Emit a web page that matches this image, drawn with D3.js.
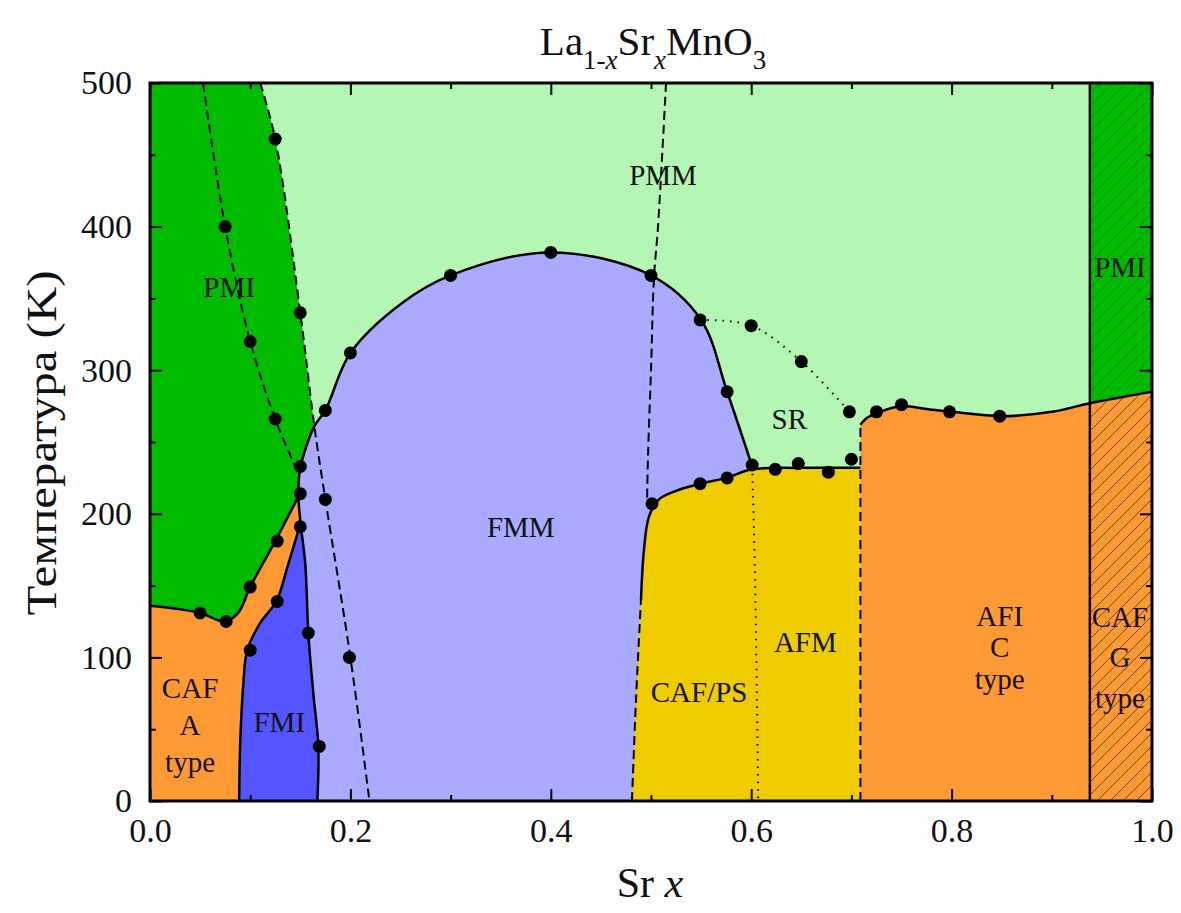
<!DOCTYPE html>
<html>
<head>
<meta charset="utf-8">
<script src="https://cdn.jsdelivr.net/npm/d3@7"></script>
<style>
body { margin: 0; background: #fff; }
text { font-family: "Liberation Serif", "Times New Roman", serif; fill: #111; }
</style>
</head>
<body>
<div id="chart"></div>
<script>
// axis ticks
var x_ticks = [0, 0.2, 0.4, 0.6, 0.8, 1.0]
var x_minor = [0.1, 0.3, 0.5, 0.7, 0.9]
var y_ticks = [0, 100, 200, 300, 400, 500]
var y_minor = [50, 150, 250, 350, 450]

// phase boundaries, [Sr x, T (K)]
var pmi_tc = [[0.11, 500], [0.125, 461], [0.15, 340], [0.164, 261], [0.175, 210], [0.2, 100], [0.219, 0]]
var pmi_inner = [[0.053, 500], [0.075, 400], [0.1, 320], [0.125, 266], [0.148, 228]]
var caf_a_top = [[0, 136], [0.025, 134], [0.05, 131], [0.075, 125], [0.088, 131], [0.1, 149], [0.125, 181], [0.148, 212]]
var fmi_left = [[0.089, 0], [0.09, 40], [0.093, 80], [0.097, 105], [0.11, 124], [0.126, 139], [0.138, 165], [0.15, 193]]
var fmm_left = [[0.167, 0], [0.168, 38], [0.163, 75], [0.158, 117], [0.155, 165], [0.15, 195], [0.148, 214], [0.15, 232],
    [0.164, 261], [0.175, 272], [0.2, 312], [0.25, 346], [0.3, 366], [0.4, 382], [0.5, 366], [0.55, 335], [0.576, 285], [0.601, 233]]
var mid_dash = [[0.515, 500], [0.507, 400], [0.503, 365], [0.5, 300], [0.497, 240], [0.496, 206]]
var caf_ps_dash = [[0.481, 0], [0.485, 70], [0.49, 140]]
var caf_ps_top = [[0.49, 140], [0.493, 175], [0.498, 198], [0.508, 210], [0.525, 216], [0.55, 221], [0.575, 225], [0.601, 231], [0.65, 232], [0.709, 232]]
var sr_line = [[0.549, 335], [0.6, 331], [0.65, 306], [0.698, 271]]
var afm_line = [[0.601, 233], [0.604, 150], [0.607, 0]]
var c_dash = [[0.709, 0], [0.709, 262]]
var c_top = [[0.709, 262], [0.716, 267], [0.725, 270], [0.75, 275], [0.775, 273], [0.8, 271], [0.85, 268], [0.9, 271], [0.938, 277], [1.0, 285]]
var x_sep = 0.938

// measured points
var dots = [[0.125, 461], [0.075, 400], [0.15, 340], [0.1, 320], [0.125, 266], [0.15, 233], [0.15, 214], [0.15, 191],
    [0.175, 272], [0.2, 312], [0.175, 210], [0.127, 181], [0.1, 149], [0.127, 139], [0.05, 131], [0.076, 125],
    [0.1, 105], [0.158, 117], [0.199, 100], [0.169, 38], [0.3, 366], [0.4, 382], [0.5, 366], [0.549, 335],
    [0.576, 285], [0.6, 331], [0.65, 306], [0.698, 271], [0.725, 271], [0.75, 276], [0.798, 271], [0.848, 268],
    [0.601, 234], [0.624, 231], [0.647, 235], [0.677, 229], [0.7, 238], [0.549, 221], [0.576, 225], [0.501, 207]]

var labels = [
    ["PMI", 0.079, 351], ["PMM", 0.512, 429], ["FMM", 0.37, 184], ["SR", 0.638, 259], ["FMI", 0.129, 48],
    ["CAF", 0.04, 72], ["A", 0.04, 46], ["type", 0.04, 20],
    ["CAF/PS", 0.548, 69], ["AFM", 0.654, 104],
    ["AFI", 0.848, 122], ["C", 0.848, 100], ["type", 0.848, 78],
    ["PMI", 0.968, 365], ["CAF", 0.968, 121], ["G", 0.968, 93], ["type", 0.968, 65]
]

var width = 1181
var height = 913

var svg = d3.select("#chart")
    .append("svg")
    .attr("width", width)
    .attr("height", height)

var x = d3.scaleLinear().domain([0, 1]).range([150, 1152])
var y = d3.scaleLinear().domain([0, 500]).range([801, 83])

var smooth = d3.curveCatmullRom.alpha(0.5)
function seg(pts, curve) {
    return d3.line().x((d) => x(d[0])).y((d) => y(d[1])).curve(curve || smooth)(pts)
}
function area(parts) {
    return parts.map((p, i) => i == 0 ? p : "L" + p.slice(1)).join("") + "Z"
}
var lin = d3.curveLinear

var defs = svg.append("defs")
defs.append("clipPath").attr("id", "plot-clip")
    .append("rect").attr("x", x(0)).attr("y", y(500)).attr("width", x(1) - x(0)).attr("height", y(0) - y(500))
defs.append("clipPath").attr("id", "col-clip")
    .append("rect").attr("x", x(x_sep)).attr("y", y(500)).attr("width", x(1) - x(x_sep)).attr("height", y(0) - y(500))

function hatch(id, color) {
    var p = defs.append("pattern").attr("id", id)
        .attr("patternUnits", "userSpaceOnUse").attr("width", 13).attr("height", 13)
    p.append("path").attr("d", "M-2,2 L2,-2 M0,13 L13,0 M11,15 L15,11")
        .attr("stroke", color).attr("stroke-width", 1)
}
hatch("hatch-green", "rgba(0,70,0,0.35)")
hatch("hatch-orange", "rgba(110,50,0,0.75)")

var fills = svg.append("g").attr("clip-path", "url(#plot-clip)")

// PMM background
fills.append("rect")
    .attr("x", x(0)).attr("y", y(500)).attr("width", x(1) - x(0)).attr("height", y(0) - y(500))
    .attr("fill", "#b4f6b4")

// PMI (left)
fills.append("path")
    .attr("d", area([seg([[0, 500], [0.11, 500]], lin), seg(pmi_tc.slice(0, 4)),
        seg([[0.164, 261], [0.17, 230], [0.16, 150], [0.1, 100], [0, 100]], lin)]))
    .attr("fill", "#00bb00")

// CAF A type
fills.append("path")
    .attr("d", area([seg(caf_a_top), seg([[0.148, 212], [0.156, 212], [0.175, 0], [0, 0]], lin)]))
    .attr("fill", "#ff9933")

// FMI
fills.append("path")
    .attr("d", area([seg(fmi_left), seg([[0.15, 193], [0.17, 193], [0.17, 0]], lin)]))
    .attr("fill", "#5555ff")

// FMM
fills.append("path")
    .attr("d", area([seg(fmm_left), seg([[0.601, 225], [0.5, 190], [0.49, 0]], lin)]))
    .attr("fill", "#aaaaff")

// CAF/PS + AFM
fills.append("path")
    .attr("d", area([seg(caf_ps_dash), seg(caf_ps_top), seg([[0.709, 0]], lin)]))
    .attr("fill", "#eecc00")

// right column PMI
fills.append("rect")
    .attr("x", x(x_sep)).attr("y", y(500)).attr("width", x(1) - x(x_sep)).attr("height", y(0) - y(500))
    .attr("fill", "#00bb00")

// AFI C type and CAF G type
var c_area = area([seg(c_top), seg([[1, 0], [0.709, 0]], lin)])
fills.append("path").attr("d", c_area).attr("fill", "#ff9933")

var col = fills.append("g").attr("clip-path", "url(#col-clip)")
col.append("rect")
    .attr("x", x(x_sep)).attr("y", y(500)).attr("width", x(1) - x(x_sep)).attr("height", y(0) - y(500))
    .attr("fill", "url(#hatch-green)")
col.append("path").attr("d", c_area).attr("fill", "url(#hatch-orange)")

// boundary lines
var lines = svg.append("g").attr("fill", "none").attr("stroke", "#000").attr("clip-path", "url(#plot-clip)")

function addLine(pts, style, curve) {
    var p = lines.append("path").attr("d", seg(pts, curve))
    if (style == "solid") p.attr("stroke-width", 2.5)
    if (style == "dash") p.attr("stroke-width", 2).attr("stroke-dasharray", "9,5")
    if (style == "dot") p.attr("stroke-width", 2).attr("stroke-dasharray", "1.5,6")
}

addLine(pmi_tc, "dash")
addLine(pmi_inner, "dash")
addLine(mid_dash, "dash")
addLine(caf_ps_dash, "dash")
addLine(c_dash, "dash", lin)
addLine(sr_line, "dot")
addLine(afm_line, "dot")
addLine(caf_a_top, "solid")
addLine(fmi_left, "solid")
addLine(fmm_left, "solid")
addLine(caf_ps_top, "solid")
addLine(c_top, "solid")
addLine([[x_sep, 0], [x_sep, 500]], "solid", lin)

// points
svg.append("g")
    .selectAll("circle")
    .data(dots)
    .join("circle")
    .attr("cx", (d) => x(d[0]))
    .attr("cy", (d) => y(d[1]))
    .attr("r", 6.5)
    .attr("fill", "#000")

// region names
svg.append("g")
    .selectAll("text")
    .data(labels)
    .join("text")
    .attr("x", (d) => x(d[1]))
    .attr("y", (d) => y(d[2]))
    .attr("text-anchor", "middle")
    .style("font-size", "29px")
    .text((d) => d[0])

// axes, ticks inside on all four sides
function styleAxis(g) {
    g.select(".domain").remove()
    g.selectAll("line").attr("stroke", "#000").attr("stroke-width", 2)
    g.selectAll("text").style("font-family", "'Liberation Serif', serif").style("font-size", "34px").attr("fill", "#111")
}

svg.append("g").attr("transform", "translate(0," + y(0) + ")")
    .call(d3.axisBottom(x).tickValues(x_ticks).tickFormat(d3.format(".1f")).tickSize(-12).tickPadding(17)).call(styleAxis)
svg.append("g").attr("transform", "translate(0," + y(0) + ")")
    .call(d3.axisBottom(x).tickValues(x_minor).tickFormat("").tickSize(-6)).call(styleAxis)
svg.append("g").attr("transform", "translate(0," + y(500) + ")")
    .call(d3.axisTop(x).tickValues(x_ticks).tickFormat("").tickSize(-12)).call(styleAxis)
svg.append("g").attr("transform", "translate(0," + y(500) + ")")
    .call(d3.axisTop(x).tickValues(x_minor).tickFormat("").tickSize(-6)).call(styleAxis)

svg.append("g").attr("transform", "translate(" + x(0) + ",0)")
    .call(d3.axisLeft(y).tickValues(y_ticks).tickSize(-12).tickPadding(18)).call(styleAxis)
svg.append("g").attr("transform", "translate(" + x(0) + ",0)")
    .call(d3.axisLeft(y).tickValues(y_minor).tickFormat("").tickSize(-6)).call(styleAxis)
svg.append("g").attr("transform", "translate(" + x(1) + ",0)")
    .call(d3.axisRight(y).tickValues(y_ticks).tickFormat("").tickSize(-12)).call(styleAxis)
svg.append("g").attr("transform", "translate(" + x(1) + ",0)")
    .call(d3.axisRight(y).tickValues(y_minor).tickFormat("").tickSize(-6)).call(styleAxis)

// frame
svg.append("rect")
    .attr("x", x(0)).attr("y", y(500)).attr("width", x(1) - x(0)).attr("height", y(0) - y(500))
    .attr("fill", "none").attr("stroke", "#000").attr("stroke-width", 3)

// title
var title = svg.append("text")
    .attr("x", 653).attr("y", 55)
    .attr("text-anchor", "middle")
    .style("font-family", "'Liberation Serif', serif")
    .style("font-size", "41px")
title.append("tspan").text("La")
title.append("tspan").attr("dy", 14).style("font-size", "27px").text("1-")
title.append("tspan").style("font-size", "27px").style("font-style", "italic").text("x")
title.append("tspan").attr("dy", -14).text("Sr")
title.append("tspan").attr("dy", 14).style("font-size", "27px").style("font-style", "italic").text("x")
title.append("tspan").attr("dy", -14).text("MnO")
title.append("tspan").attr("dy", 14).style("font-size", "27px").text("3")

// axis labels
var xl = svg.append("text")
    .attr("x", 650).attr("y", 897)
    .attr("text-anchor", "middle")
    .style("font-size", "42px")
xl.append("tspan").text("Sr ")
xl.append("tspan").style("font-style", "italic").text("x")

svg.append("text")
    .attr("transform", "translate(56,443) rotate(-90)")
    .attr("text-anchor", "middle")
    .attr("textLength", 345)
    .attr("lengthAdjust", "spacingAndGlyphs")
    .style("font-size", "43px")
    .text("Температура (K)")
</script>
</body>
</html>
